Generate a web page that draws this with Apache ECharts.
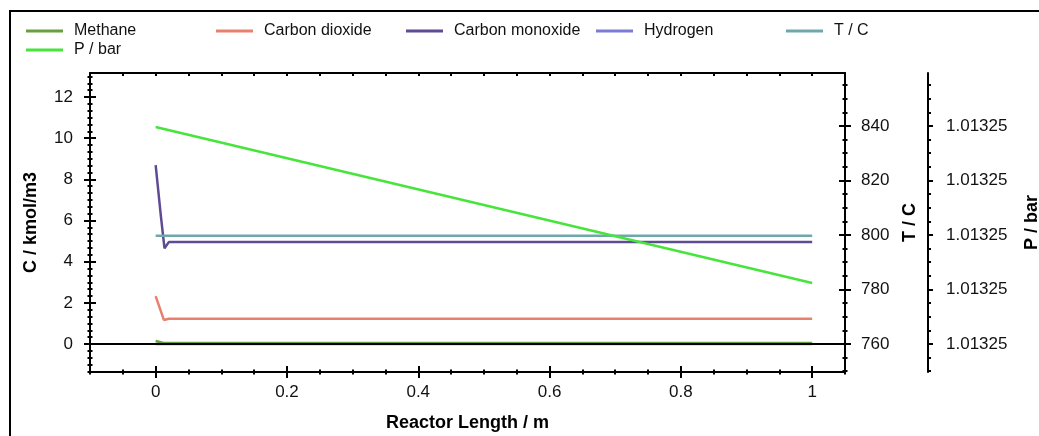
<!DOCTYPE html>
<html>
<head>
<meta charset="utf-8">
<title>Reactor profile</title>
<script src="https://cdn.jsdelivr.net/npm/echarts@6.0.0/dist/echarts.min.js"></script>
<style>
	html, body { margin: 0; padding: 0; background: #fff; }
	#chart { width: 1039px; height: 436px; }
</style>
</head>
<body>
<div id="chart"></div>
<script>
	// values: [reactor length m, value]
	var methane = [[0, 0.15], [0.012, 0.05], [1, 0.05]];
	var carbonDioxide = [[0, 2.33], [0.0125, 1.17], [0.02, 1.23], [1, 1.23]];
	var carbonMonoxide = [[0, 8.69], [0.008, 6.2], [0.0135, 4.65], [0.02, 4.95], [1, 4.95]];
	var hydrogen = [[0, 0], [1, 0]];
	var temperature = [[0, 799.7], [1, 799.7]];
	var pressure = [[0, 1.01325398], [1, 1.01325112]];

	// labelled ticks
	var xTicks = [0, 0.2, 0.4, 0.6, 0.8, 1];
	var cTicks = [0, 2, 4, 6, 8, 10, 12];
	var tTicks = [760, 780, 800, 820, 840];
	var pTicks = [1.01325, 1.013251, 1.013252, 1.013253, 1.013254];

	var legendNames = ['Methane', 'Carbon dioxide', 'Carbon monoxide', 'Hydrogen', 'T / C', 'P / bar'];
	var colors = ['#6a9f3f', '#e8806e', '#5f4b94', '#7c7cd8', '#6fa8ab', '#47e53c'];

	var font = 'Liberation Sans';
	var black = '#000';

	// small ticks between the labelled ones
	function minorTicks(start, step, end, majors) {
		var out = [];
		for (var i = 0; start + i * step <= end + step * 1e-6; i++) {
			var v = start + i * step;
			var isMajor = majors.some(function(m) { return Math.abs(m - v) < step * 1e-3; });
			if (!isMajor) out.push(v);
		}
		return out;
	}
	var xMinor = minorTicks(-0.1, 0.05, 1.05, xTicks);
	var cMinor = minorTicks(-4 / 3, 1 / 3, 13, cTicks);
	var tMinor = minorTicks(750, 5, 855, tTicks);
	var pMinor = minorTicks(1.01325 - 0.5e-6, 0.25e-6, 1.01325 + 4.75e-6, pTicks);

	var xRange = [-0.1, 1.05];
	var cRange = [-1.36, 13.166];
	var tRange = [749.72, 859.45];
	var pRange = [1.013249486, 1.0132549725];

	function tickOnly(pos, range, values, len, inside, offset) {
		return {
			type: 'value', position: pos, offset: offset || 0,
			min: range[0], max: range[1],
			axisLine: { show: false, onZero: false },
			axisLabel: { show: false },
			splitLine: { show: false },
			axisTick: { show: true, inside: inside, length: len, customValues: values,
				lineStyle: { color: black, width: 2 } }
		};
	}

	function labelled(pos, range, values, margin, nameText, gap, offset, fmt) {
		return {
			type: 'value', position: pos, offset: offset || 0,
			min: range[0], max: range[1],
			axisLine: { show: true, onZero: false, lineStyle: { color: black, width: 2 } },
			axisTick: { show: true, inside: false, length: 6, customValues: values,
				lineStyle: { color: black, width: 2 } },
			axisLabel: { customValues: values, margin: margin, color: '#111', fontSize: 17,
				fontFamily: font, formatter: fmt },
			splitLine: { show: false },
			name: nameText, nameLocation: 'middle', nameGap: gap,
			nameTextStyle: { color: black, fontSize: 18, fontWeight: 'bold', fontFamily: font }
		};
	}

	var xAxes = [
		labelled('bottom', xRange, xTicks, 12, 'Reactor Length / m', 42),
		tickOnly('bottom', xRange, xTicks, 6, true),
		tickOnly('bottom', xRange, xMinor, 2.5, true),
		tickOnly('bottom', xRange, xMinor, 2.5, false),
		{
			type: 'value', position: 'top', min: xRange[0], max: xRange[1],
			axisLine: { show: true, onZero: false, lineStyle: { color: black, width: 2 } },
			axisLabel: { show: false }, splitLine: { show: false },
			axisTick: { show: true, inside: true, length: 3, customValues: xTicks.concat(xMinor),
				lineStyle: { color: black, width: 2 } }
		}
	];

	var yAxes = [
		labelled('left', cRange, cTicks, 17, 'C / kmol/m3', 50),
		tickOnly('left', cRange, cTicks, 6, true),
		tickOnly('left', cRange, cMinor, 2.5, true),
		tickOnly('left', cRange, cMinor, 2.5, false),
		labelled('right', tRange, tTicks, 16, 'T / C', 56),
		tickOnly('right', tRange, tTicks, 6, true),
		tickOnly('right', tRange, tMinor, 2.5, true),
		tickOnly('right', tRange, tMinor, 2.5, false),
		labelled('right', pRange, pTicks, 18, 'P / bar', 95, 83, function(v) { return v.toFixed(5); }),
		tickOnly('right', pRange, pMinor, 3, false, 83)
	];
	yAxes[8].axisTick.length = 5;

	function line(name, data, yIndex, color, z) {
		return {
			name: name, type: 'line', data: data,
			xAxisIndex: 0, yAxisIndex: yIndex,
			symbol: 'none', showSymbol: false, z: z || 2,
			lineStyle: { color: color, width: 2.5 },
			itemStyle: { color: color }
		};
	}

	var co2 = line('Carbon dioxide', carbonDioxide, 0, colors[1], 3);
	// black line at C = 0
	co2.markLine = {
		silent: true, symbol: 'none', animation: false,
		label: { show: false },
		lineStyle: { color: black, width: 2, type: 'solid' },
		data: [{ yAxis: 0 }]
	};

	var series = [
		line('Hydrogen', hydrogen, 0, colors[3]),
		line('Methane', methane, 0, colors[0]),
		co2,
		line('Carbon monoxide', carbonMonoxide, 0, colors[2]),
		line('T / C', temperature, 4, colors[4]),
		line('P / bar', pressure, 8, colors[5])
	];

	var legendLeft = [26, 216, 406, 596, 786, 26];
	var legendTop = [23, 23, 23, 23, 23, 42];
	var legends = legendNames.map(function(n, i) {
		return {
			data: [n], left: legendLeft[i], top: legendTop[i], padding: 0,
			icon: 'rect', itemWidth: 37, itemHeight: 3, selectedMode: false,
			textStyle: { fontSize: 16, color: '#111', fontFamily: font, padding: [0, 0, 0, 6] }
		};
	});

	var myChart = echarts.init(document.getElementById('chart'));
	myChart.setOption({
		animation: false,
		backgroundColor: '#fff',
		color: colors,
		grid: { left: 90, right: 194, top: 73, bottom: 64, containLabel: false, outerBoundsMode: 'none' },
		legend: legends,
		xAxis: xAxes,
		yAxis: yAxes,
		series: series,
		graphic: [{
			type: 'rect', silent: true,
			shape: { x: 10, y: 11, width: 1040, height: 440 },
			style: { fill: 'none', stroke: black, lineWidth: 2 }
		}]
	});
</script>
</body>
</html>
